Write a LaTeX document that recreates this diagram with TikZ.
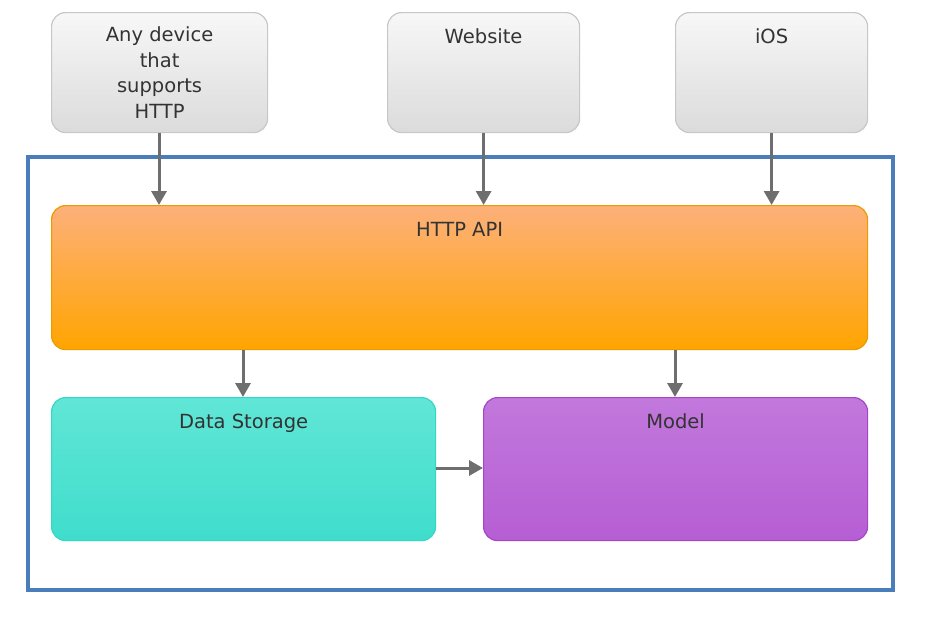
\documentclass[tikz,border=0pt]{standalone}
\usepackage{fontspec}
\setmainfont{DejaVu Sans}
\usetikzlibrary{arrows.meta}
\definecolor{txt}{HTML}{333333}
\definecolor{arr}{HTML}{6E6E6E}
\definecolor{frame}{HTML}{4A7EBB}
\tikzset{
  lbl/.style={text=txt, font=\fontsize{19.5}{25.7}\selectfont},
  box/.style={draw, rounded corners=14pt, line width=1.2pt, anchor=north west, inner sep=0pt, lbl, align=center},
  client/.style={box, draw=black!22, top color=black!3, bottom color=black!14, minimum width=#1, minimum height=120pt},
  api/.style={box, draw={rgb,255:red,235;green,154;blue,0}, top color={rgb,255:red,253;green,176;blue,122}, bottom color={rgb,255:red,255;green,165;blue,0}},
  store/.style={box, draw={rgb,255:red,50;green,215;blue,200}, top color={rgb,255:red,96;green,230;blue,214}, bottom color={rgb,255:red,64;green,221;blue,204}},
  model/.style={box, draw={rgb,255:red,165;green,70;blue,200}, top color={rgb,255:red,194;green,120;blue,220}, bottom color={rgb,255:red,182;green,94;blue,212}},
  toplabel/.style={label={[anchor=base, inner sep=0pt, label distance=-31pt, lbl]north:#1}},
  conn/.style={draw=arr, line width=3pt, -{Triangle[width=15pt,length=14pt]}}
}
\begin{document}
\begin{tikzpicture}[x=1pt,y=-1pt]
\useasboundingbox (0,0) rectangle (932,616);
\node[draw=frame, line width=4pt, anchor=north west, minimum width=865pt, minimum height=433pt, inner sep=0pt] (frm) at (26,155) {};
\node[client=216pt] (any) at (51,12) {Any device\\that\\supports\\HTTP};
\node[client=192pt, toplabel={Website}] (web) at (387,12) {};
\node[client=192pt, toplabel={iOS}] (ios) at (675,12) {};
\node[api, minimum width=816pt, minimum height=144pt, toplabel={HTTP API}] (api) at (51,205) {};
\node[store, minimum width=384pt, minimum height=143pt, toplabel={Data Storage}] (ds) at (51,397) {};
\node[model, minimum width=384pt, minimum height=143pt, toplabel={Model}] (mdl) at (483,397) {};
\draw[conn] (any.south -| 159,0) -- (api.north -| 159,0);
\draw[conn] (web.south) -- (api.north -| web.south);
\draw[conn] (ios.south) -- (api.north -| ios.south);
\draw[conn] (api.south -| 243,0) -- (ds.north -| 243,0);
\draw[conn] (api.south -| 675,0) -- (mdl.north -| 675,0);
\draw[conn] (ds.east |- 0,468) -- (mdl.west |- 0,468);
\end{tikzpicture}
\end{document}
